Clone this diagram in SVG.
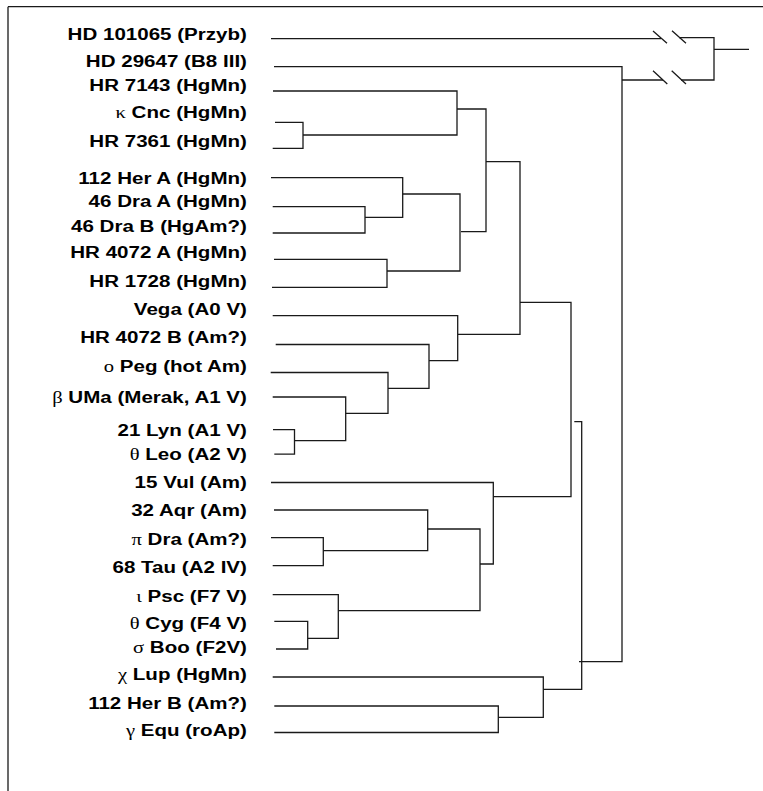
<svg xmlns="http://www.w3.org/2000/svg" width="763" height="791" viewBox="0 0 763 791">
<style>
.lbl{font-family:"Liberation Sans",Arial,sans-serif;font-weight:bold;font-size:17px;fill:#000;text-anchor:end}
.gr{font-family:"Liberation Serif","Times New Roman",serif;font-weight:normal}
.ln{fill:none;stroke:#1a1a1a;stroke-width:1.3}
</style>
<rect width="763" height="791" fill="#fff"/>
<g id="frame" class="ln">
<path d="M8 6.7H763M8 6.7V791"/>
</g>
<g transform="scale(1.21 1)">
<g id="n1"><text class="lbl" x="204.1" y="40.5">HD 101065 (Przyb)</text></g>
<g id="n2"><text class="lbl" x="204.1" y="67">HD 29647 (B8 III)</text></g>
<g id="n3"><text class="lbl" x="204.1" y="91.3">HR 7143 (HgMn)</text></g>
<g id="n4"><text class="lbl" x="204.1" y="118.5"><tspan class="gr">κ</tspan> Cnc (HgMn)</text></g>
<g id="n5"><text class="lbl" x="204.1" y="146.7">HR 7361 (HgMn)</text></g>
<g id="n6"><text class="lbl" x="204.1" y="184.4">112 Her A (HgMn)</text></g>
<g id="n7"><text class="lbl" x="204.1" y="207.5">46 Dra A (HgMn)</text></g>
<g id="n8"><text class="lbl" x="204.1" y="232.5">46 Dra B (HgAm?)</text></g>
<g id="n9"><text class="lbl" x="204.1" y="258.3">HR 4072 A (HgMn)</text></g>
<g id="n10"><text class="lbl" x="204.1" y="286.7">HR 1728 (HgMn)</text></g>
<g id="n11"><text class="lbl" x="204.1" y="315">Vega (A0 V)</text></g>
<g id="n12"><text class="lbl" x="204.1" y="343.3">HR 4072 B (Am?)</text></g>
<g id="n13"><text class="lbl" x="204.1" y="371.7"><tspan class="gr">ο</tspan> Peg (hot Am)</text></g>
<g id="n14"><text class="lbl" x="204.1" y="402.7"><tspan class="gr">β</tspan> UMa (Merak, A1 V)</text></g>
<g id="n15"><text class="lbl" x="204.1" y="436">21 Lyn (A1 V)</text></g>
<g id="n16"><text class="lbl" x="204.1" y="460"><tspan class="gr">θ</tspan> Leo (A2 V)</text></g>
<g id="n17"><text class="lbl" x="204.1" y="488.3">15 Vul (Am)</text></g>
<g id="n18"><text class="lbl" x="204.1" y="515.7">32 Aqr (Am)</text></g>
<g id="n19"><text class="lbl" x="204.1" y="545"><tspan class="gr">π</tspan> Dra (Am?)</text></g>
<g id="n20"><text class="lbl" x="204.1" y="573.3">68 Tau (A2 IV)</text></g>
<g id="n21"><text class="lbl" x="204.1" y="602.3"><tspan class="gr">ι</tspan> Psc (F7 V)</text></g>
<g id="n22"><text class="lbl" x="204.1" y="629.3"><tspan class="gr">θ</tspan> Cyg (F4 V)</text></g>
<g id="n23"><text class="lbl" x="204.1" y="653.3"><tspan class="gr">σ</tspan> Boo (F2V)</text></g>
<g id="n24"><text class="lbl" x="204.1" y="680"><tspan class="gr">χ</tspan> Lup (HgMn)</text></g>
<g id="n25"><text class="lbl" x="204.1" y="709">112 Her B (Am?)</text></g>
<g id="n26"><text class="lbl" x="204.1" y="735.7"><tspan class="gr">γ</tspan> Equ (roAp)</text></g>
</g>
<g id="connectors" class="ln">
<path d="M271 38.7H661"/>
<path d="M653 31L667 43.3M672 30.7L686 43.3"/>
<path d="M679 37.7H714V80H681M663 80H622M714 49.3H749"/>
<path d="M653 70.7L667.3 84M671.7 70.7L686 84"/>
<path d="M274 66.7H622V661.7H579"/>
<path d="M273 91H457V135H303"/>
<path d="M275 122.3H303V148.3H272.7"/>
<path d="M457 109H486V231.7H461"/>
<path d="M486 161.7H520V334.3H458"/>
<path d="M520 302.3H571V496.7H493.3"/>
<path d="M271 177.7H402.7V217.3H365"/>
<path d="M272.7 206.7H365V233H272.7"/>
<path d="M402.7 194H460V271H387"/>
<path d="M274 259.3H387V287.3H272"/>
<path d="M272.7 315.7H457.7V360.7H429"/>
<path d="M275.7 344.5H429V388.3H388"/>
<path d="M270.7 372.5H388V413.3H345.7"/>
<path d="M272.7 397H345.7V440.7H294.5"/>
<path d="M273 429.7H294.5V454.2H274.3"/>
<path d="M271 482.5H493.3V564H480"/>
<path d="M274 510H427.7V550.7H323.3"/>
<path d="M271 537.7H323.3V565.7H272.7"/>
<path d="M427.7 529H480V610.7H338.3"/>
<path d="M272.7 594.7H338.3V638.3H307.7"/>
<path d="M274.3 621.3H307.7V649H276"/>
<path d="M574.3 421.7H581.7V689.3H543.3"/>
<path d="M272.7 677H543.3V717.3H498.3"/>
<path d="M274.3 706H498.3V732.5H274.3"/>
</g>
</svg>
